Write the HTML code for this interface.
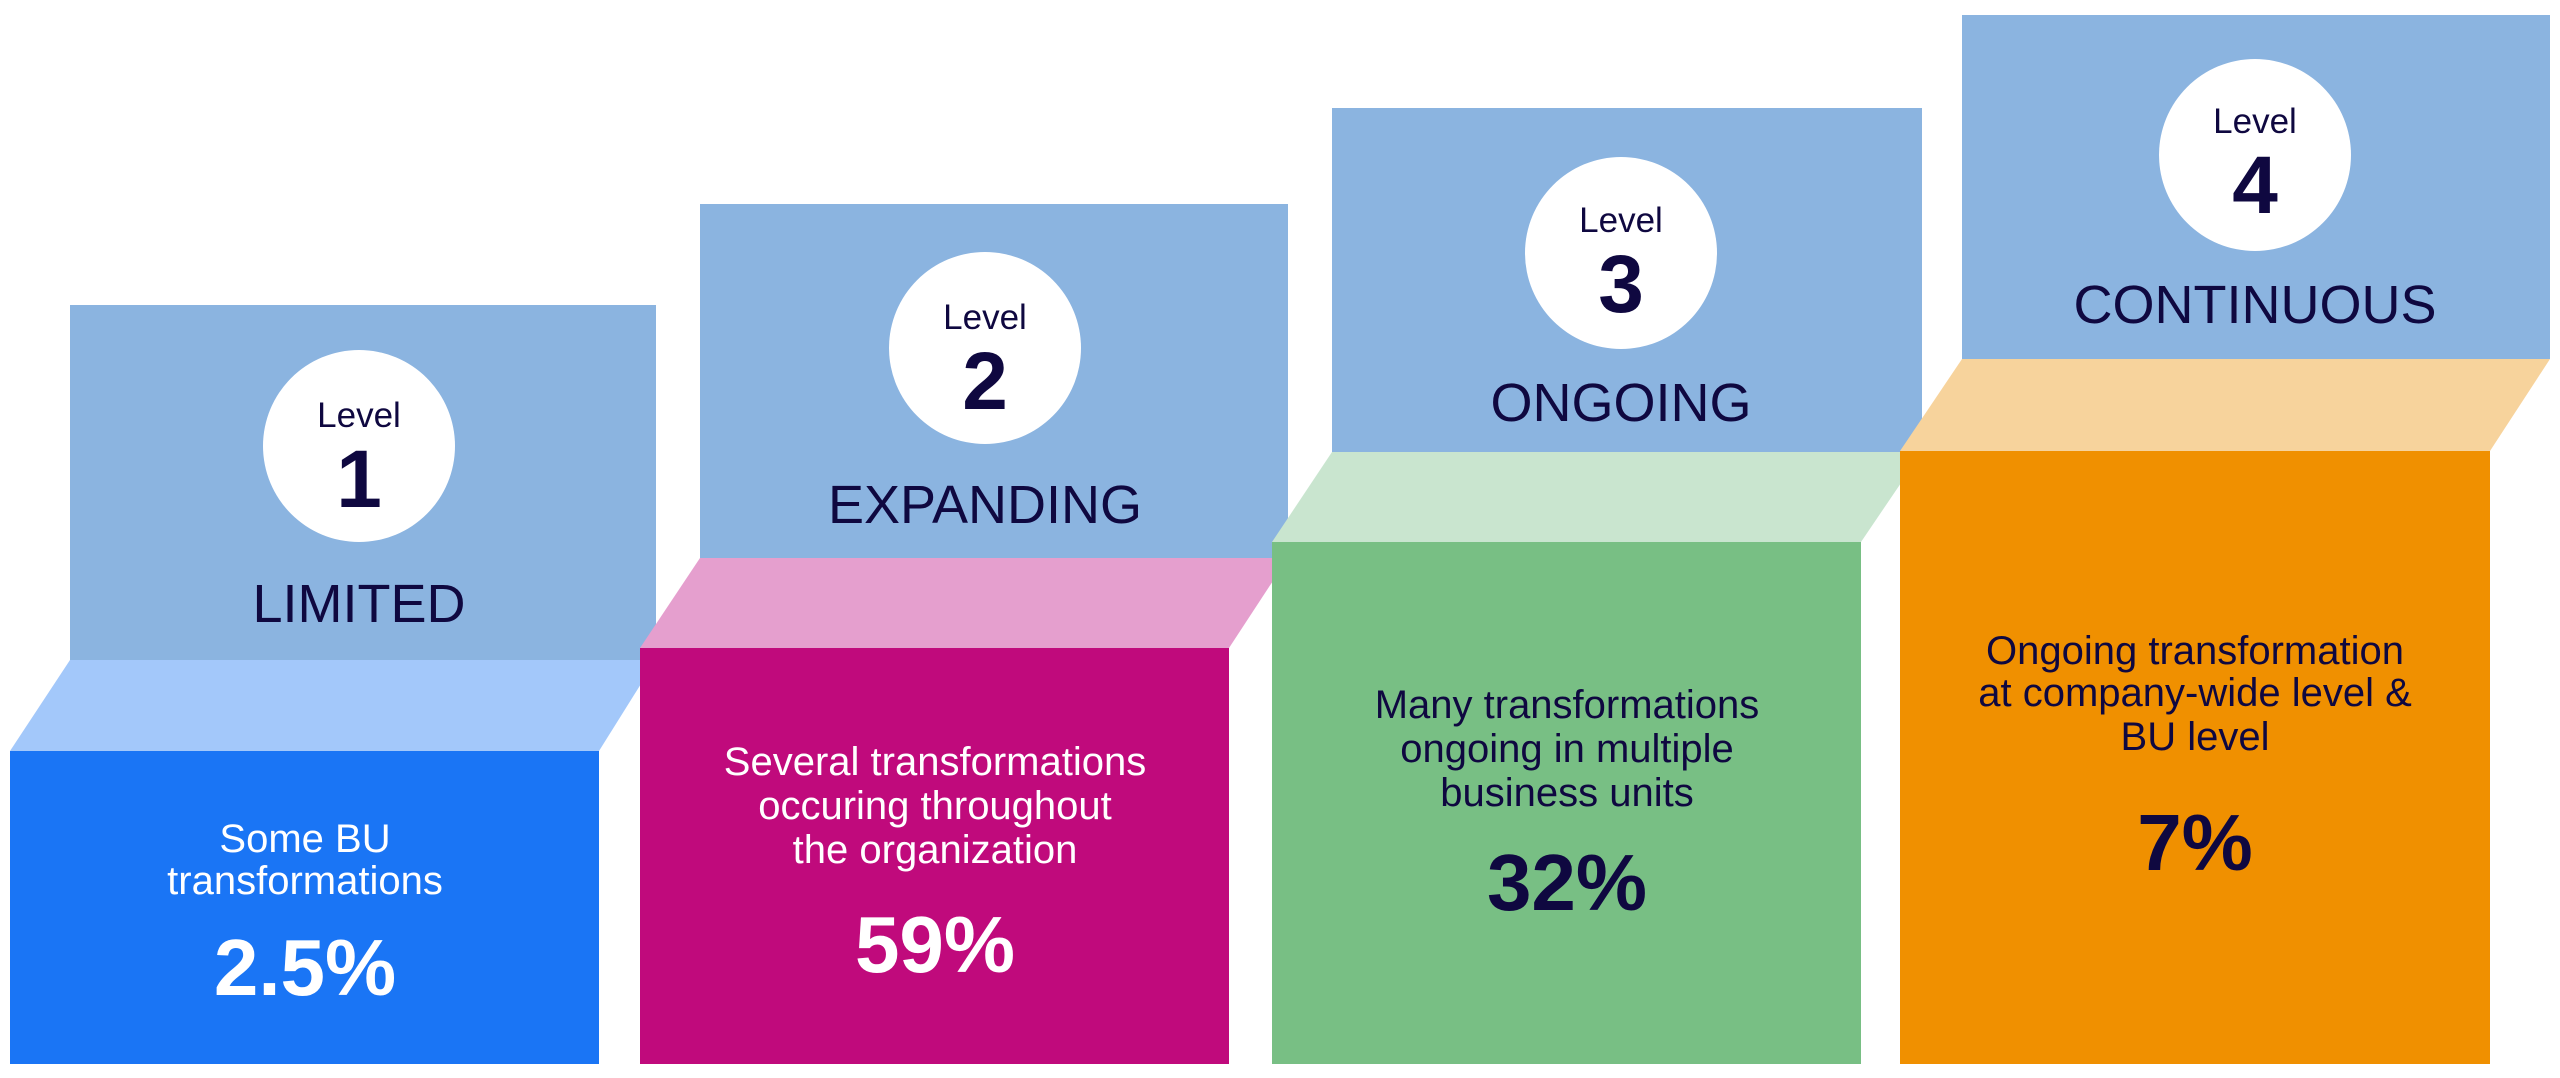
<!DOCTYPE html>
<html><head><meta charset="utf-8"><style>
html,body{margin:0;padding:0;background:#fff;}
svg{display:block;}
text{font-family:"Liberation Sans",sans-serif;text-anchor:middle;}
</style></head><body>
<svg width="2560" height="1078" viewBox="0 0 2560 1078" xmlns="http://www.w3.org/2000/svg">
<!-- Level 1 -->
<rect x="70" y="305" width="586" height="355" fill="#8BB4E0"/>
<polygon points="70,660 656,660 599,751 10,751" fill="#A3C8FA"/>
<rect x="10" y="751" width="589" height="313" fill="#1A75F5"/>
<circle cx="359" cy="446" r="96" fill="#fff"/>
<text x="359" y="427" font-size="35" fill="#0F0840">Level</text>
<text x="359" y="507" font-size="82" font-weight="bold" fill="#0F0840">1</text>
<text x="359" y="622" font-size="54" fill="#0F0840">LIMITED</text>
<text x="305" y="852" font-size="40" fill="#fff">Some BU</text>
<text x="305" y="894" font-size="40" fill="#fff">transformations</text>
<text x="305" y="995" font-size="80" font-weight="bold" fill="#fff">2.5%</text>
<!-- Level 2 -->
<rect x="700" y="204" width="588" height="354" fill="#8BB4E0"/>
<polygon points="700,558 1288,558 1229,648 640,648" fill="#E59FCE"/>
<rect x="640" y="648" width="589" height="416" fill="#C00A7C"/>
<circle cx="985" cy="348" r="96" fill="#fff"/>
<text x="985" y="329" font-size="35" fill="#0F0840">Level</text>
<text x="985" y="409" font-size="82" font-weight="bold" fill="#0F0840">2</text>
<text x="985" y="523" font-size="54" fill="#0F0840">EXPANDING</text>
<text x="935" y="775" font-size="40" fill="#fff">Several transformations</text>
<text x="935" y="819" font-size="40" fill="#fff">occuring throughout</text>
<text x="935" y="863" font-size="40" fill="#fff">the organization</text>
<text x="935" y="972" font-size="80" font-weight="bold" fill="#fff">59%</text>
<!-- Level 3 -->
<rect x="1332" y="108" width="590" height="344" fill="#8BB4E0"/>
<polygon points="1332,452 1922,452 1861,542 1272,542" fill="#C9E5CF"/>
<rect x="1272" y="542" width="589" height="522" fill="#78BF84"/>
<circle cx="1621" cy="253" r="96" fill="#fff"/>
<text x="1621" y="232" font-size="35" fill="#0F0840">Level</text>
<text x="1621" y="312" font-size="82" font-weight="bold" fill="#0F0840">3</text>
<text x="1621" y="421" font-size="54" fill="#0F0840">ONGOING</text>
<text x="1567" y="718" font-size="40" fill="#0F0840">Many transformations</text>
<text x="1567" y="762" font-size="40" fill="#0F0840">ongoing in multiple</text>
<text x="1567" y="806" font-size="40" fill="#0F0840">business units</text>
<text x="1567" y="910" font-size="80" font-weight="bold" fill="#0F0840">32%</text>
<!-- Level 4 -->
<rect x="1962" y="15" width="588" height="344" fill="#8BB4E0"/>
<polygon points="1962,359 2550,359 2490,451 1900,451" fill="#F7D39C"/>
<rect x="1900" y="451" width="590" height="613" fill="#F09000"/>
<circle cx="2255" cy="155" r="96" fill="#fff"/>
<text x="2255" y="133" font-size="35" fill="#0F0840">Level</text>
<text x="2255" y="213" font-size="82" font-weight="bold" fill="#0F0840">4</text>
<text x="2255" y="323" font-size="54" fill="#0F0840">CONTINUOUS</text>
<text x="2195" y="664" font-size="40" fill="#0F0840">Ongoing transformation</text>
<text x="2195" y="706" font-size="40" fill="#0F0840">at company-wide level &amp;</text>
<text x="2195" y="750" font-size="40" fill="#0F0840">BU level</text>
<text x="2195" y="870" font-size="80" font-weight="bold" fill="#0F0840">7%</text>
</svg>
</body></html>
